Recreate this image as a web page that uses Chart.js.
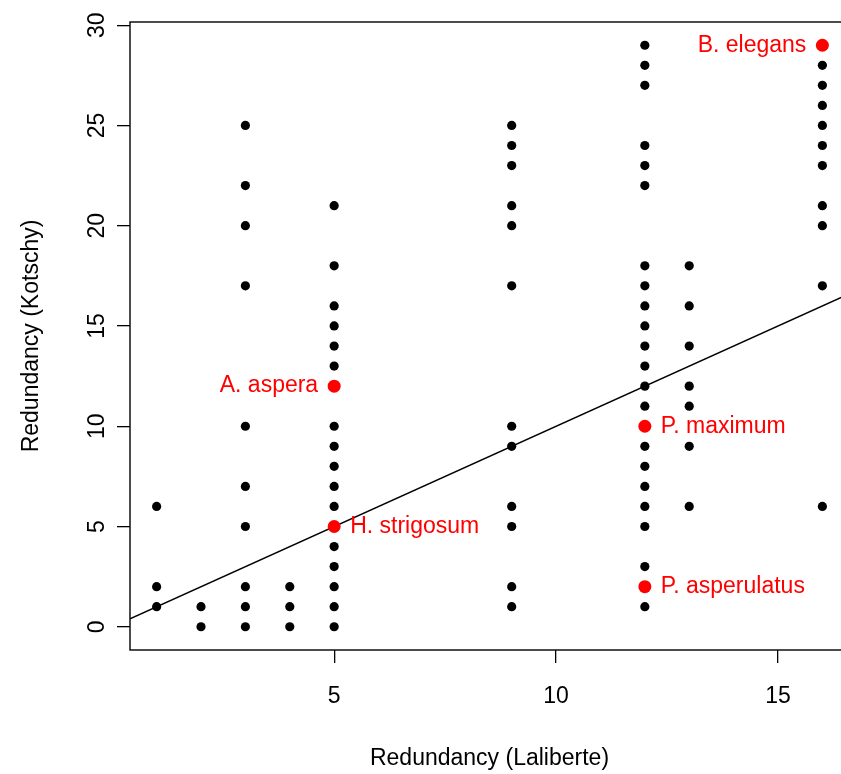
<!DOCTYPE html>
<html>
<head>
<meta charset="utf-8">
<script src="https://cdn.jsdelivr.net/npm/chart.js@4/dist/chart.umd.min.js"></script>
<style>
  html, body { margin: 0; padding: 0; background: #fff; overflow: hidden; }
  #wrap { position: absolute; left: 0; top: 0; width: 860px; height: 774px; }
</style>
</head>
<body>
<div id="wrap"><canvas id="c"></canvas></div>
<script>
// black points: Laliberte redundancy (x) vs Kotschy redundancy (y)
const blackX = [
  1, 1, 1,
  2, 2,
  3, 3, 3, 3, 3, 3, 3, 3, 3, 3,
  4, 4, 4,
  5, 5, 5, 5, 5, 5, 5, 5, 5, 5, 5, 5, 5, 5, 5, 5,
  9, 9, 9, 9, 9, 9, 9, 9, 9, 9, 9, 9,
  12, 12, 12, 12, 12, 12, 12, 12, 12, 12, 12, 12, 12, 12, 12, 12, 12, 12, 12, 12, 12,
  13, 13, 13, 13, 13, 13, 13,
  16, 16, 16, 16, 16, 16, 16, 16, 16, 16
];
const blackY = [
  6, 2, 1,
  1, 0,
  25, 22, 20, 17, 10, 7, 5, 2, 1, 0,
  2, 1, 0,
  21, 18, 16, 15, 14, 13, 10, 9, 8, 7, 6, 4, 3, 2, 1, 0,
  25, 24, 23, 21, 20, 17, 10, 9, 6, 5, 2, 1,
  29, 28, 27, 24, 23, 22, 18, 17, 16, 15, 14, 13, 12, 11, 9, 8, 7, 6, 5, 3, 1,
  18, 16, 14, 12, 11, 9, 6,
  28, 27, 26, 25, 24, 23, 21, 20, 17, 6
];

// highlighted species
const redNames = ['A. aspera', 'H. strigosum', 'P. maximum', 'P. asperulatus', 'B. elegans'];
const redX = [5, 5, 12, 12, 16];
const redY = [12, 5, 10, 2, 29];
const redSide = ['left', 'right', 'right', 'right', 'left'];

// reference line y = a + b*x
const abIntercept = 0;
const abSlope = 1;

const xRange = [0.4, 16.6];
const yRange = [-1.16, 30.16];
const xTicks = [5, 10, 15];
const yTicks = [0, 5, 10, 15, 20, 25, 30];

const xTitle = 'Redundancy (Laliberte)';
const yTitle = 'Redundancy (Kotschy)';

const FONT = 'Liberation Sans, Arial, Helvetica, sans-serif';

const blackPts = blackX.map((x, i) => ({ x: x, y: blackY[i] }));
const redPts = redX.map((x, i) => ({ x: x, y: redY[i] }));
const linePts = xRange.map(x => ({ x: x, y: abIntercept + abSlope * x }));

// box round the plot region, like R's box()
const boxPlugin = {
  id: 'box',
  afterDraw(chart) {
    const a = chart.chartArea, ctx = chart.ctx;
    ctx.save();
    ctx.strokeStyle = '#000';
    ctx.lineWidth = 1.4;
    ctx.strokeRect(a.left, a.top, a.right - a.left, a.bottom - a.top);
    ctx.restore();
  }
};

// red text labels beside highlighted points
const labelPlugin = {
  id: 'redLabels',
  afterDatasetsDraw(chart) {
    const meta = chart.getDatasetMeta(0);
    const ctx = chart.ctx;
    ctx.save();
    ctx.font = '23px ' + FONT;
    ctx.fillStyle = '#ff0000';
    ctx.textBaseline = 'middle';
    meta.data.forEach((el, i) => {
      if (redSide[i] === 'left') {
        ctx.textAlign = 'right';
        ctx.fillText(redNames[i], el.x - 16, el.y);
      } else {
        ctx.textAlign = 'left';
        ctx.fillText(redNames[i], el.x + 16, el.y);
      }
    });
    ctx.restore();
  }
};

new Chart(document.getElementById('c'), {
  type: 'scatter',
  data: {
    datasets: [
      {
        data: redPts, order: 0,
        backgroundColor: '#ff0000', borderColor: '#ff0000', borderWidth: 0,
        pointRadius: 6.5, pointHoverRadius: 6.5
      },
      {
        type: 'line', data: linePts, order: 1,
        borderColor: '#000', borderWidth: 1.5, pointRadius: 0, fill: false
      },
      {
        data: blackPts, order: 2,
        backgroundColor: '#000', borderColor: '#000', borderWidth: 0,
        pointRadius: 4.6, pointHoverRadius: 4.6
      }
    ]
  },
  options: {
    responsive: true,
    maintainAspectRatio: false,
    animation: false,
    events: [],
    layout: { padding: { top: 22, right: 11, bottom: 0, left: 0 } },
    plugins: { legend: { display: false }, tooltip: { enabled: false } },
    scales: {
      x: {
        type: 'linear',
        min: xRange[0], max: xRange[1],
        afterBuildTicks: s => { s.ticks = xTicks.map(v => ({ value: v })); },
        afterFit: s => { s.height = 124; },
        grid: { drawOnChartArea: false, drawTicks: true, tickLength: 13, color: '#000', lineWidth: 1.3 },
        border: { display: false },
        ticks: { color: '#000', font: { family: FONT, size: 23 }, padding: 20, maxRotation: 0 },
        title: { display: true, text: xTitle, color: '#000', font: { family: FONT, size: 23 }, padding: { top: 0, bottom: 2 } }
      },
      y: {
        type: 'linear',
        min: yRange[0], max: yRange[1],
        afterBuildTicks: s => { s.ticks = yTicks.map(v => ({ value: v })); },
        afterFit: s => { s.width = 130; },
        grid: { drawOnChartArea: false, drawTicks: true, tickLength: 13, color: '#000', lineWidth: 1.3 },
        border: { display: false },
        ticks: { color: '#000', font: { family: FONT, size: 23 }, padding: 7, minRotation: 90, maxRotation: 90, crossAlign: 'center' },
        title: { display: true, text: yTitle, color: '#000', font: { family: FONT, size: 23 }, padding: { top: 18, bottom: 0 } }
      }
    }
  },
  plugins: [boxPlugin, labelPlugin]
});
</script>
</body>
</html>
